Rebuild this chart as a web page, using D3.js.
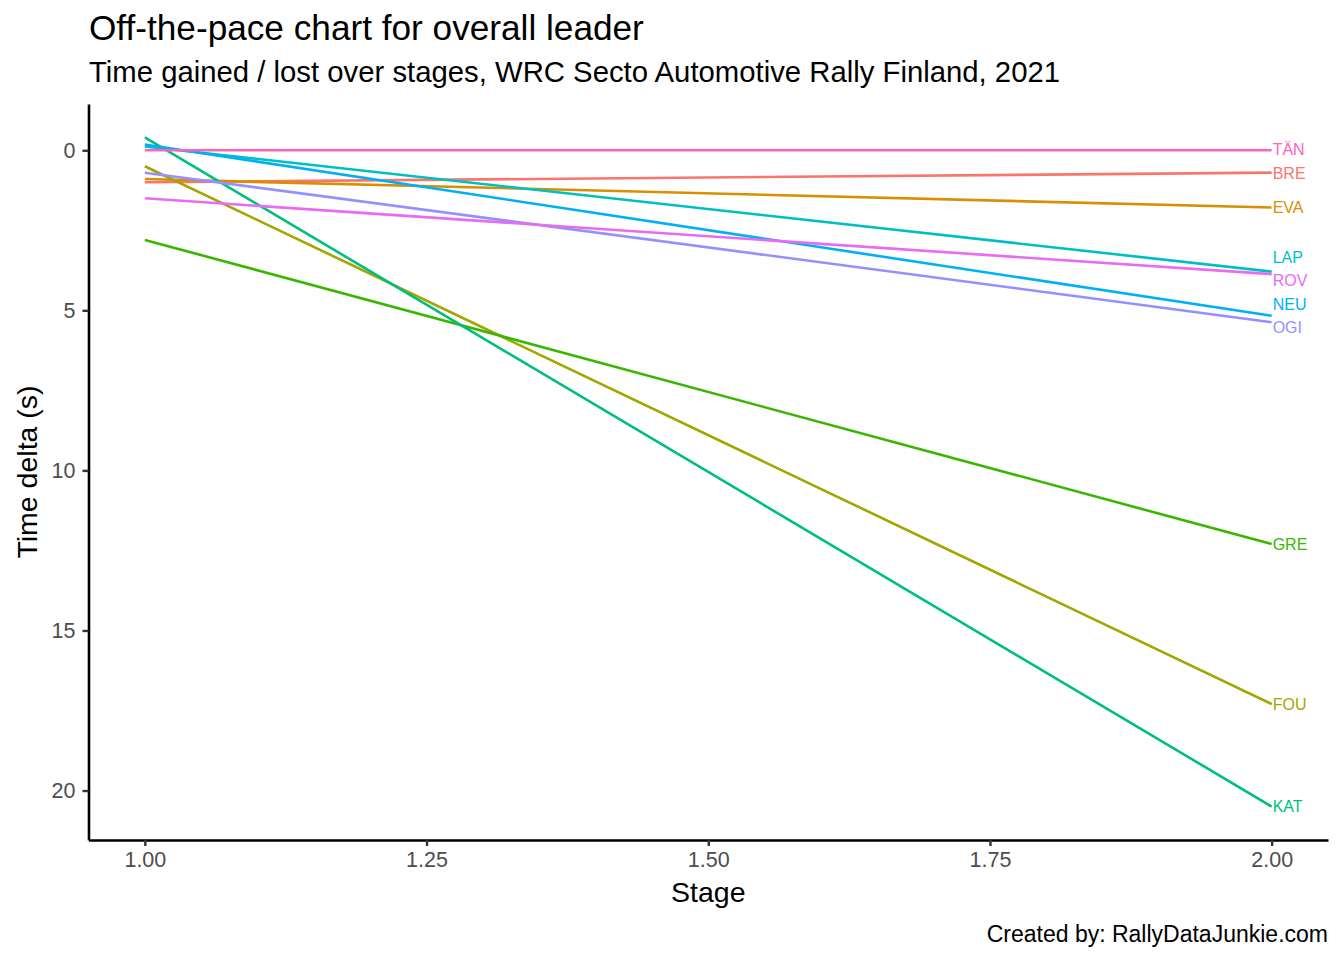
<!DOCTYPE html>
<html>
<head>
<meta charset="utf-8">
<script src="https://cdn.jsdelivr.net/npm/d3@7"></script>
<style>
  body { margin: 0; background: #fff; }
  text { font-family: "Liberation Sans", Arial, Helvetica, sans-serif; }
</style>
</head>
<body>
<div id="graphic"></div>
<script>
// drivers, in the order ggplot assigned the colours (alphabetical)
var drivers = ["BRE", "EVA", "FOU", "GRE", "KAT", "LAP", "NEU", "OGI", "ROV", "TÄN"];
var colours = ["#F8766D", "#D89000", "#A3A500", "#39B600", "#00BF7D",
               "#00BFC4", "#00B0F6", "#9590FF", "#E76BF3", "#FF62BC"];
var stages = [1, 2];
// time delta (s) at stage 1 and stage 2
var deltaStage1 = [1.0, 0.9, 0.5, 2.8, -0.4, -0.12, -0.18, 0.7, 1.5, 0.0];
var deltaStage2 = [0.7, 1.79, 17.3, 12.3, 20.5, 3.79, 5.17, 5.37, 3.87, 0.0];
var xTicks = [1.00, 1.25, 1.50, 1.75, 2.00];
var yTicks = [0, 5, 10, 15, 20];

var W = 1344, H = 960;
var margin = {top: 104, right: 16, bottom: 120, left: 88.5};
var width = W - margin.left - margin.right,
    height = H - margin.top - margin.bottom;

var series = drivers.map(function(d, i) {
  return {name: d, colour: colours[i], values: [
    {stage: stages[0], delta: deltaStage1[i]},
    {stage: stages[1], delta: deltaStage2[i]}
  ]};
});

// ggplot style 5% expansion
function expand(ext) {
  var pad = (ext[1] - ext[0]) * 0.05;
  return [ext[0] - pad, ext[1] + pad];
}
var allDelta = deltaStage1.concat(deltaStage2);

var x = d3.scaleLinear().domain(expand(d3.extent(stages))).range([0, width]);
var y = d3.scaleLinear().domain(expand(d3.extent(allDelta))).range([0, height]);

var svg = d3.select("#graphic").append("svg")
  .attr("width", W)
  .attr("height", H);

var g = svg.append("g")
  .attr("transform", "translate(" + margin.left + "," + margin.top + ")");

var line = d3.line()
  .x(function(d) { return x(d.stage); })
  .y(function(d) { return y(d.delta); });

g.selectAll(".driver")
  .data(series)
  .enter().append("path")
  .attr("class", "driver")
  .attr("fill", "none")
  .attr("stroke", function(d) { return d.colour; })
  .attr("stroke-width", 2.6)
  .attr("d", function(d) { return line(d.values); });

// labels at the stage 2 end, pushed apart where they collide
var labels = series.map(function(d) {
  var target = y(d.values[1].delta);
  return {name: d.name, colour: d.colour, target: target, pos: target};
}).sort(function(a, b) { return a.target - b.target; });

var gap = 23.5;
for (var it = 0; it < 300; it++) {
  for (var k = 1; k < labels.length; k++) {
    var a = labels[k - 1], b = labels[k];
    var overlap = gap - (b.pos - a.pos);
    if (overlap > 0) {
      a.pos -= overlap * 0.7;
      b.pos += overlap * 0.3;
    }
  }
}

g.selectAll(".lab")
  .data(labels)
  .enter().append("text")
  .attr("class", "lab")
  .attr("x", x(stages[1]) + 1)
  .attr("y", function(d) { return d.pos; })
  .attr("dy", "0.36em")
  .attr("fill", function(d) { return d.colour; })
  .style("font-size", "16px")
  .text(function(d) { return d.name; });

// axes
var xAxis = g.append("g")
  .attr("transform", "translate(0," + height + ")")
  .call(d3.axisBottom(x).tickValues(xTicks).tickFormat(d3.format(".2f"))
    .tickSizeInner(6).tickSizeOuter(0).tickPadding(6));

var yAxis = g.append("g")
  .call(d3.axisLeft(y).tickValues(yTicks).tickSizeInner(6).tickSizeOuter(0).tickPadding(7));

[xAxis, yAxis].forEach(function(ax) {
  ax.select(".domain").attr("stroke", "#000").attr("stroke-width", 2.6);
  ax.selectAll(".tick line").attr("stroke", "#333").attr("stroke-width", 2.4);
  ax.selectAll(".tick text").attr("fill", "#4D4D4D").style("font-size", "21.5px")
    .style("font-family", "'Liberation Sans', Arial, sans-serif");
});

// titles
svg.append("text")
  .attr("x", 89).attr("y", 40)
  .style("font-size", "35.2px")
  .text("Off-the-pace chart for overall leader");

svg.append("text")
  .attr("x", 89).attr("y", 82)
  .style("font-size", "29.3px")
  .text("Time gained / lost over stages, WRC Secto Automotive Rally Finland, 2021");

svg.append("text")
  .attr("x", margin.left + width / 2).attr("y", 902)
  .attr("text-anchor", "middle")
  .style("font-size", "28.5px")
  .text("Stage");

svg.append("text")
  .attr("transform", "translate(37," + (margin.top + height / 2) + ") rotate(-90)")
  .attr("text-anchor", "middle")
  .style("font-size", "28.5px")
  .text("Time delta (s)");

svg.append("text")
  .attr("x", 1328).attr("y", 942)
  .attr("text-anchor", "end")
  .style("font-size", "23px")
  .text("Created by: RallyDataJunkie.com");
</script>
</body>
</html>
